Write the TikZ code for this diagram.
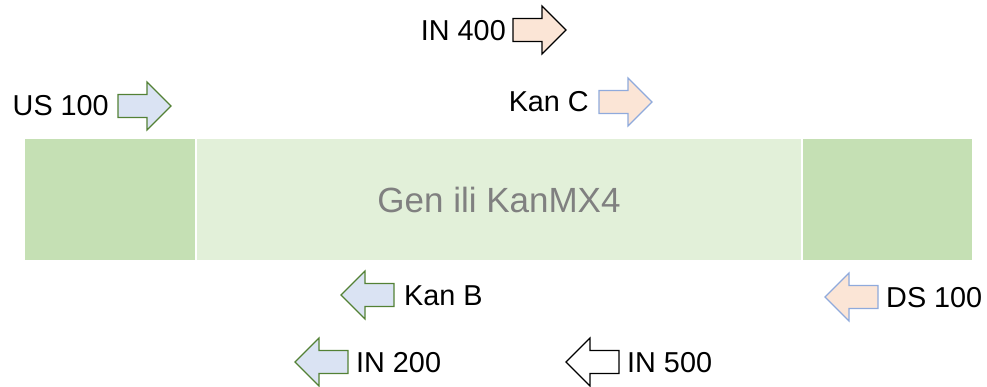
\documentclass[tikz,border=0pt]{standalone}
\usepackage{fontspec}
\setmainfont{Liberation Sans}
\definecolor{blockdark}{HTML}{C5E0B4}
\definecolor{blocklight}{HTML}{E2F0D9}
\definecolor{bluefill}{HTML}{DAE3F3}
\definecolor{peachfill}{HTML}{FBE5D6}
\definecolor{greenline}{HTML}{538135}
\definecolor{blueline}{HTML}{8FAADC}
\definecolor{graytext}{HTML}{808080}
\tikzset{
  rarr/.pic={\path[pic actions] (0,-11.5) -- (29,-11.5) -- (29,-24) -- (53,0) -- (29,24) -- (29,11.5) -- (0,11.5) -- cycle;},
  larr/.pic={\path[pic actions] (0,-11.5) -- (-29,-11.5) -- (-29,-24) -- (-53,0) -- (-29,24) -- (-29,11.5) -- (0,11.5) -- cycle;},
  arrbase/.style={line width=1.2pt, line join=miter},
  bluegreen/.style={arrbase, draw=greenline, fill=bluefill},
  peachblack/.style={arrbase, draw=black, fill=peachfill},
  peachblue/.style={arrbase, draw=blueline, fill=peachfill},
  whiteblack/.style={arrbase, draw=black, fill=white},
  lbl/.style={inner sep=0pt, font=\fontsize{28.8}{34}\selectfont, text=black},
  block/.style={draw=none, minimum height=121pt, inner sep=0pt},
}
\begin{document}
\begin{tikzpicture}[x=1pt,y=-1pt]
\useasboundingbox (0,0) rectangle (987,387);
% bar
\node[block, fill=blockdark, minimum width=170pt] (left) at (110,199.5) {};
\node[block, fill=blocklight, minimum width=604pt, text=graytext, font=\fontsize{35}{40}\selectfont] (mid) at (499,199.5) {Gen ili KanMX4};
\node[block, fill=blockdark, minimum width=169pt] (right) at (887.5,199.5) {};
% arrows above
\pic[bluegreen] (us) at (118,106) {rarr};
\node[lbl, anchor=east] (uslbl) at (109,106) {US 100};
\pic[peachblack] (in4) at (513,30) {rarr};
\node[lbl, anchor=east] (in4lbl) at (506,31) {IN 400};
\pic[peachblue] (kc) at (599,102) {rarr};
\node[lbl, anchor=east] (kclbl) at (589,102) {Kan C};
% arrows below
\pic[bluegreen] (kb) at (394,295) {larr};
\node[lbl, anchor=west] (kblbl) at (404,296) {Kan B};
\pic[peachblue] (ds) at (878,297) {larr};
\node[lbl, anchor=west] (dslbl) at (886,298) {DS 100};
\pic[bluegreen] (in2) at (348,362) {larr};
\node[lbl, anchor=west] (in2lbl) at (356,363) {IN 200};
\pic[whiteblack] (in5) at (619,362) {larr};
\node[lbl, anchor=west] (in5lbl) at (627,363) {IN 500};
\end{tikzpicture}
\end{document}
